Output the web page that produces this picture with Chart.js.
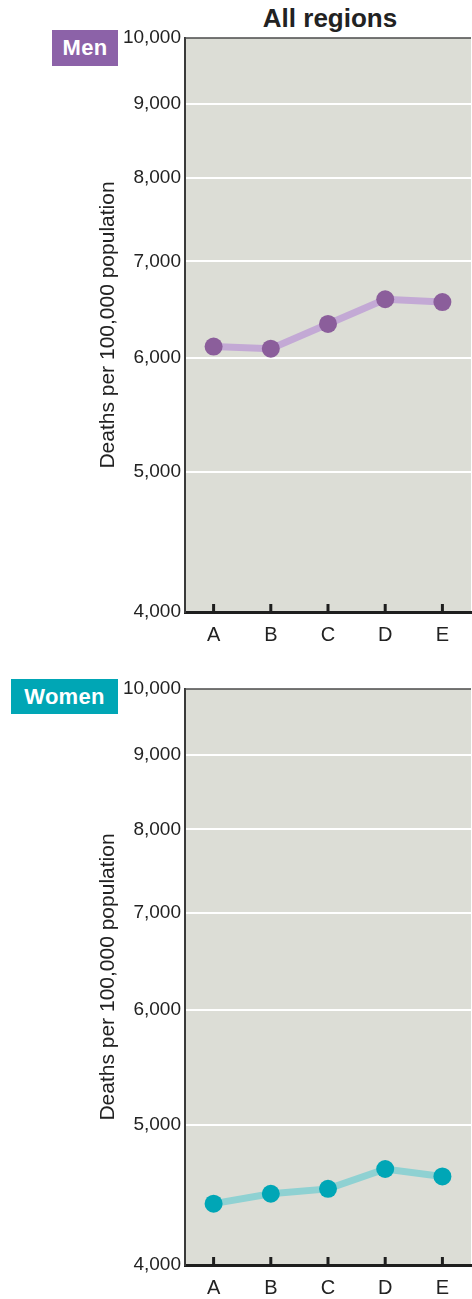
<!DOCTYPE html>
<html>
<head>
<meta charset="utf-8">
<script src="https://cdn.jsdelivr.net/npm/chart.js@4/dist/chart.umd.min.js"></script>
<style>
  html, body { margin: 0; padding: 0; background: #fff; }
  #wrap { position: relative; width: 472px; height: 1299px; overflow: hidden; font-family: "Liberation Sans", Arial, sans-serif; }
  .title { position: absolute; left: 185px; width: 290px; top: 5px; text-align: center; font-weight: bold; font-size: 26px; line-height: 26px; color: #222; }
  .badge { position: absolute; color: #fff; font-weight: bold; font-size: 22px; display: flex; align-items: center; justify-content: center; letter-spacing: 0.3px; }
  .panel { position: absolute; left: 0; }
</style>
</head>
<body>
<div id="wrap">
  <div class="title">All regions</div>
  <div class="badge" style="left:52px;top:30px;width:66px;height:36px;background:#8c62a8;">Men</div>
  <div class="badge" style="left:11px;top:679px;width:107px;height:35px;background:#00a6b5;">Women</div>
  <canvas id="menChart" class="panel" width="480" height="660" style="top:0;"></canvas>
  <canvas id="womenChart" class="panel" width="480" height="662" style="top:651px;"></canvas>
</div>
<script>
// Data
const categories = ['A', 'B', 'C', 'D', 'E'];
const menValues = [6110, 6090, 6335, 6590, 6560];
const womenValues = [4410, 4480, 4515, 4660, 4605];
const yTicks = [4000, 5000, 6000, 7000, 8000, 9000, 10000];
const yTitle = 'Deaths per 100,000 population';

// Plot background, top frame line and inner x tick marks
const panelDecor = {
    id: 'panelDecor',
    beforeDraw(chart) {
        const { ctx, chartArea } = chart;
        ctx.save();
        ctx.fillStyle = '#dcddd6';
        ctx.fillRect(chartArea.left, chartArea.top, chartArea.right - chartArea.left, chartArea.bottom - chartArea.top);
        ctx.restore();
    },
    afterDraw(chart) {
        const { ctx, chartArea, scales } = chart;
        ctx.save();
        ctx.strokeStyle = '#4a4a4a';
        ctx.lineWidth = 1.5;
        ctx.beginPath();
        ctx.moveTo(chartArea.left, chartArea.top);
        ctx.lineTo(chartArea.right, chartArea.top);
        ctx.stroke();
        ctx.strokeStyle = '#1e1e1e';
        ctx.lineWidth = 3;
        categories.forEach((c, i) => {
            const x = scales.x.getPixelForValue(i);
            ctx.beginPath();
            ctx.moveTo(x, chartArea.bottom - 8);
            ctx.lineTo(x, chartArea.bottom);
            ctx.stroke();
        });
        ctx.restore();
    }
};

function makePanel(canvasId, values, lineColor, pointColor, xHeight) {
    const ctx = document.getElementById(canvasId).getContext('2d');
    return new Chart(ctx, {
        type: 'line',
        data: {
            labels: categories,
            datasets: [{
                data: values,
                borderColor: lineColor,
                borderWidth: 7,
                pointRadius: 9,
                pointHoverRadius: 9,
                pointBackgroundColor: pointColor,
                pointBorderWidth: 0,
                tension: 0,
                clip: false
            }]
        },
        options: {
            responsive: false,
            animation: false,
            devicePixelRatio: 1,
            layout: { padding: { top: 38, right: 5, left: 0, bottom: 0 } },
            plugins: {
                legend: { display: false },
                tooltip: { enabled: false }
            },
            scales: {
                x: {
                    type: 'category',
                    offset: true,
                    grid: { color: 'transparent', drawTicks: false },
                    border: { color: '#1e1e1e', width: 3 },
                    ticks: {
                        color: '#222',
                        padding: 11,
                        font: { family: '"Liberation Sans", Arial, sans-serif', size: 20 }
                    },
                    afterFit(scale) { scale.height = xHeight; }
                },
                y: {
                    type: 'logarithmic',
                    min: 4000,
                    max: 10000,
                    afterBuildTicks(scale) {
                        scale.ticks = yTicks.map(v => ({ value: v }));
                    },
                    grid: {
                        drawTicks: false,
                        lineWidth: 2,
                        color: c => (c.tick && c.tick.value > 4000 && c.tick.value < 10000) ? '#ffffff' : 'transparent'
                    },
                    border: { color: '#3a3a3a', width: 2 },
                    ticks: {
                        color: '#222',
                        padding: 4,
                        font: { family: '"Liberation Sans", Arial, sans-serif', size: 19 },
                        callback: v => Number(v).toLocaleString('en-US')
                    },
                    title: {
                        display: true,
                        text: yTitle,
                        color: '#222',
                        padding: { top: 96, bottom: 0 },
                        font: { family: '"Liberation Sans", Arial, sans-serif', size: 21 }
                    },
                    afterFit(scale) { scale.width = 185; }
                }
            }
        },
        plugins: [panelDecor]
    });
}

makePanel('menChart', menValues, '#c3a9d5', '#8b5e9b', 48);
makePanel('womenChart', womenValues, '#8fd1d2', '#00a6b6', 48);
</script>
</body>
</html>
